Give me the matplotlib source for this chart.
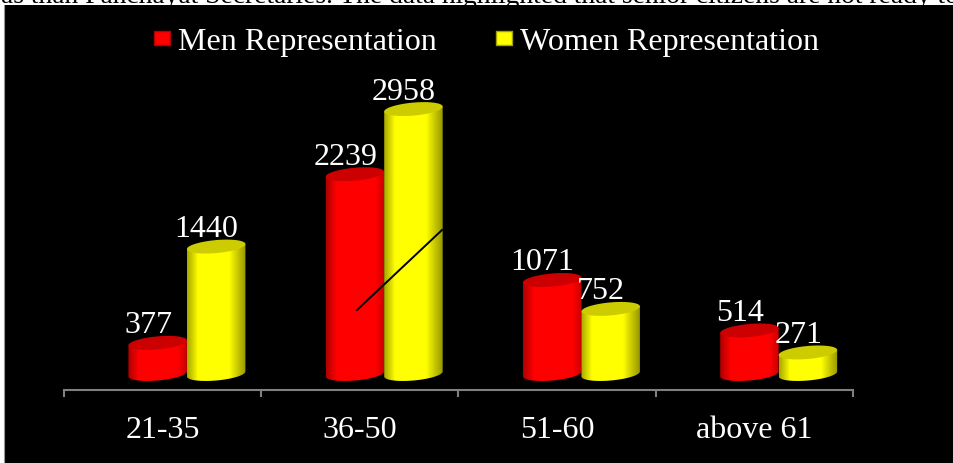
import numpy as np
import matplotlib
matplotlib.use("Agg")
import matplotlib.pyplot as plt
from matplotlib.colors import LinearSegmentedColormap
from matplotlib.lines import Line2D
from matplotlib.patches import PathPatch, Rectangle
from matplotlib.path import Path

categories = ["21-35", "36-50", "51-60", "above 61"]
men = [377, 2239, 1071, 514]
women = [1440, 2958, 752, 271]
clipped_sentence = "as than Panchayat Secretaries. The data highlighted that senior citizens are not ready to contest"

W, H = 954, 464
plt.rcParams["font.family"] = ["Liberation Serif", "DejaVu Serif"]

fig = plt.figure(figsize=(W / 100, H / 100), dpi=100, facecolor="white")

# sentence of the surrounding page, cut by the black panel
fig.text(1 / W, 1 - 3 / H, clipped_sentence, color="black", fontsize=19.8, va="baseline", ha="left", zorder=0)
fig.add_artist(Rectangle((4 / W, 0), 1, 1 - 6 / H, transform=fig.transFigure, facecolor="black",
                         edgecolor="none", zorder=1))
fig.add_artist(Line2D([4.5 / W, 4.5 / W], [0, 1 - 6 / H], color="#999999", linewidth=0.8, zorder=1))

ax = fig.add_axes([64 / W, 1 - 390.5 / H, (853 - 64) / W, 380.5 / H], zorder=2)
ax.patch.set_visible(False)
per_px = 11.04
xlim = (0, 4)
ylim = (-12.5 * per_px, 368 * per_px)

x_px = 4 / (853 - 64)
bar_w = 58.5 * x_px
centre_shift = 24.3 * x_px
floor = 3 * per_px
ell_h = 6.5 * per_px
ell_tilt = 2.5 * per_px


def make_cmap(edge_l, edge_r, right_start):
    return LinearSegmentedColormap.from_list("c", [(0, edge_l[0]), (0.18, edge_l[1]), (right_start, edge_l[1]),
                                                   (1, edge_r)])


def ell_pts(cx, y, t):
    return cx + bar_w / 2 * np.cos(t), y + ell_h * np.sin(t) + ell_tilt * np.cos(t)


def cylinder(cx, value, cmap, top_col):
    t = np.linspace(np.pi, 2 * np.pi, 40)
    bx, by = ell_pts(cx, floor, t)
    tx, ty = ell_pts(cx, value, np.array([0, np.pi]))
    verts = np.r_[np.c_[bx, by], np.c_[tx, ty], [[bx[0], by[0]]]]
    body = PathPatch(Path(verts, closed=True), facecolor="none", edgecolor="none", zorder=3)
    ax.add_patch(body)
    grad = np.linspace(0, 1, 64).reshape(1, -1)
    im = ax.imshow(grad, cmap=cmap, extent=(cx - bar_w / 2, cx + bar_w / 2, -10 * per_px, value + 10 * per_px),
                   aspect="auto", zorder=3, interpolation="bilinear")
    im.set_clip_path(body)
    t = np.linspace(0, 2 * np.pi, 80)
    ex, ey = ell_pts(cx, value, t)
    ax.fill(ex, ey, color=top_col, lw=0, zorder=4)


red_map = make_cmap(("#b00000", "#ff0000"), "#c80000", 0.85)
yellow_map = make_cmap(("#a8a800", "#ffff00"), "#989800", 0.72)

centres = np.arange(4) + 0.5 + centre_shift
for i in range(4):
    cylinder(centres[i] - bar_w / 2, men[i], red_map, "#cc0000")
    cylinder(centres[i] + bar_w / 2, women[i], yellow_map, "#cccc00")

for i in range(4):
    ax.annotate(str(men[i]), (centres[i] - bar_w / 2, men[i]), xytext=(-7, 13), textcoords="offset points",
                ha="center", va="center", color="white", fontsize=23, zorder=6)
    ax.annotate(str(women[i]), (centres[i] + bar_w / 2, women[i]), xytext=(-7, 13), textcoords="offset points",
                ha="center", va="center", color="white", fontsize=23, zorder=6)

ax.set_xlim(xlim)
ax.set_ylim(ylim)
ax.set_yticks([])
for side in ["top", "left", "right"]:
    ax.spines[side].set_visible(False)
ax.spines["bottom"].set_color("#808080")
ax.spines["bottom"].set_linewidth(1.5)
ax.set_xticks(range(5))
ax.set_xticklabels([])
ax.set_xticks(np.arange(4) + 0.5, labels=categories, minor=True)
ax.tick_params(axis="x", which="major", length=5, width=1.5, color="#808080")
ax.tick_params(axis="x", which="minor", length=0, pad=18.7, labelsize=23, labelcolor="white")

# stray black line across the middle bars
fig.add_artist(Line2D([357 / W, 442 / W], [1 - 311 / H, 1 - 231 / H], color="black", linewidth=1.4, zorder=5))

box = [(-1.2, -1), (1.2, -1), (1.2, 1), (-1.2, 1), (-1.2, -1)]
handles = [
    Line2D([], [], linestyle="none", marker=box, markersize=12, markerfacecolor="#ff0000", markeredgecolor="#b00000"),
    Line2D([], [], linestyle="none", marker=box, markersize=12, markerfacecolor="#ffff00", markeredgecolor="#a0a000"),
]
fig.legend(handles, ["Men Representation", "Women Representation"], ncol=2, frameon=False, labelcolor="white",
           fontsize=23, loc="center left", bbox_to_anchor=(146 / W, 1 - 42 / H), handletextpad=0, columnspacing=1.62,
           handlelength=1, borderpad=0, borderaxespad=0)

fig.savefig("out.png", dpi=100, facecolor=fig.get_facecolor())
